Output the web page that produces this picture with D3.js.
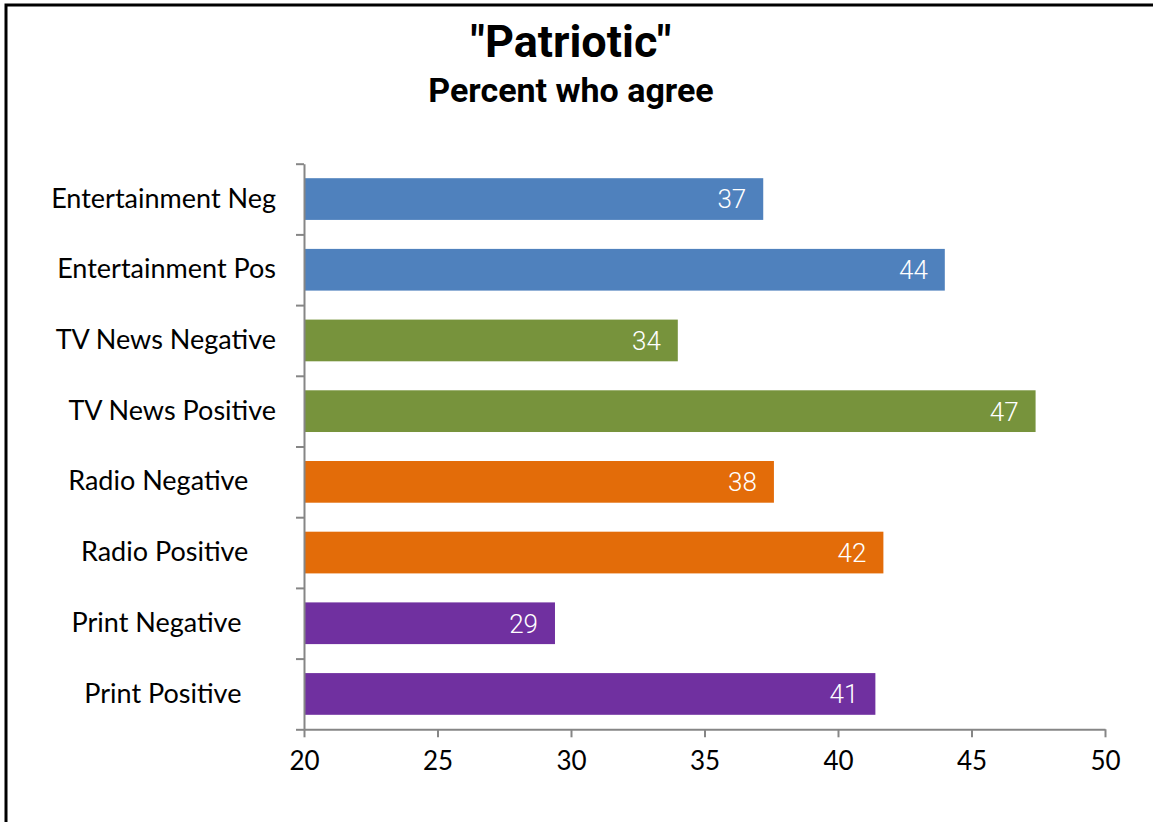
<!DOCTYPE html>
<html>
<head>
<meta charset="utf-8">
<script src="https://cdn.jsdelivr.net/npm/d3@7"></script>
<style>
  html, body { margin: 0; padding: 0; background: #fff; }
  svg { display: block; }
  text { white-space: pre; }
</style>
</head>
<body>
<svg id="chart" width="1153" height="822"></svg>
<script>
// ---- data ----
const categories = [
  "Entertainment Neg",
  "Entertainment Pos",
  "TV News Negative",
  "TV News Positive",
  "Radio Negative    ",
  "Radio Positive    ",
  "Print Negative     ",
  "Print Positive     "
];
const values = [37.2, 44.0, 34.0, 47.4, 37.6, 41.7, 29.4, 41.4];
const labels = ["37", "44", "34", "47", "38", "42", "29", "41"];
const groupColors = ["#4F81BD", "#4F81BD", "#77933C", "#77933C", "#E36C09", "#E36C09", "#7030A0", "#7030A0"];
const xTicks = [20, 25, 30, 35, 40, 45, 50];
const titleText = "\"Patriotic\"";
const subtitleText = "Percent who agree";

// ---- layout ----
const svg = d3.select("#chart");
const W = 1153, H = 822;
const plot = { left: 304, right: 1105, top: 163.7, bottom: 729.3 };

svg.append("rect").attr("width", W).attr("height", H).attr("fill", "#fff");
svg.append("rect")
  .attr("x", 6).attr("y", 5).attr("width", 1160).attr("height", 830)
  .attr("fill", "none").attr("stroke", "#000").attr("stroke-width", 3);

svg.append("text").attr("x", 571).attr("y", 57)
  .attr("text-anchor", "middle")
  .attr("font-family", "Roboto, 'Liberation Sans', sans-serif")
  .attr("font-weight", "bold").attr("font-size", 45).attr("fill", "#000")
  .text(titleText);
svg.append("text").attr("x", 571).attr("y", 102)
  .attr("text-anchor", "middle")
  .attr("font-family", "Roboto, 'Liberation Sans', sans-serif")
  .attr("font-weight", "bold").attr("font-size", 34).attr("fill", "#000")
  .text(subtitleText);

const x = d3.scaleLinear().domain([20, 50]).range([plot.left, plot.right]);
const y = d3.scaleBand().domain(categories).range([plot.top, plot.bottom]).padding(0);
const barH = y.bandwidth() * 0.59;

const axisColor = "#868686";

// bars
const g = svg.append("g");
g.selectAll("rect.bar").data(categories).enter().append("rect")
  .attr("class", "bar")
  .attr("x", x(20))
  .attr("y", (d) => y(d) + (y.bandwidth() - barH) / 2)
  .attr("width", (d, i) => x(values[i]) - x(20))
  .attr("height", barH)
  .attr("fill", (d, i) => groupColors[i]);

// data labels
g.selectAll("text.lbl").data(categories).enter().append("text")
  .attr("class", "lbl")
  .attr("x", (d, i) => x(values[i]) - 17)
  .attr("y", (d) => y(d) + y.bandwidth() / 2)
  .attr("dy", "0.36em")
  .attr("text-anchor", "end")
  .attr("font-family", "Roboto, sans-serif")
  .attr("font-weight", 300)
  .attr("font-size", 26)
  .attr("fill", "#fff")
  .text((d, i) => labels[i]);

// x axis
const xAxis = svg.append("g")
  .attr("transform", `translate(0,${plot.bottom})`)
  .call(d3.axisBottom(x).tickValues(xTicks).tickSize(8).tickPadding(14).tickSizeOuter(0));
xAxis.select(".domain").attr("stroke", axisColor).attr("stroke-width", 2);
xAxis.selectAll(".tick line").attr("stroke", axisColor).attr("stroke-width", 2);
xAxis.selectAll(".tick text")
  .attr("font-family", "Lato, sans-serif").attr("font-size", 26).attr("fill", "#000");

// y axis: category labels
const yAxis = svg.append("g")
  .attr("transform", `translate(${plot.left},0)`)
  .call(d3.axisLeft(y).tickSize(0).tickPadding(28));
yAxis.select(".domain").remove();
yAxis.selectAll(".tick text")
  .attr("font-family", "Lato, sans-serif").attr("font-size", 27).attr("fill", "#000");

// y axis line + boundary ticks
const yb = d3.scaleLinear().domain([0, categories.length]).range([plot.top, plot.bottom]);
const yTickAxis = svg.append("g")
  .attr("transform", `translate(${plot.left},0)`)
  .call(d3.axisLeft(yb).tickValues(d3.range(0, categories.length + 1)).tickFormat("").tickSize(8).tickSizeOuter(0));
yTickAxis.select(".domain").attr("stroke", axisColor).attr("stroke-width", 2);
yTickAxis.selectAll(".tick line").attr("stroke", axisColor).attr("stroke-width", 2);
</script>
</body>
</html>
